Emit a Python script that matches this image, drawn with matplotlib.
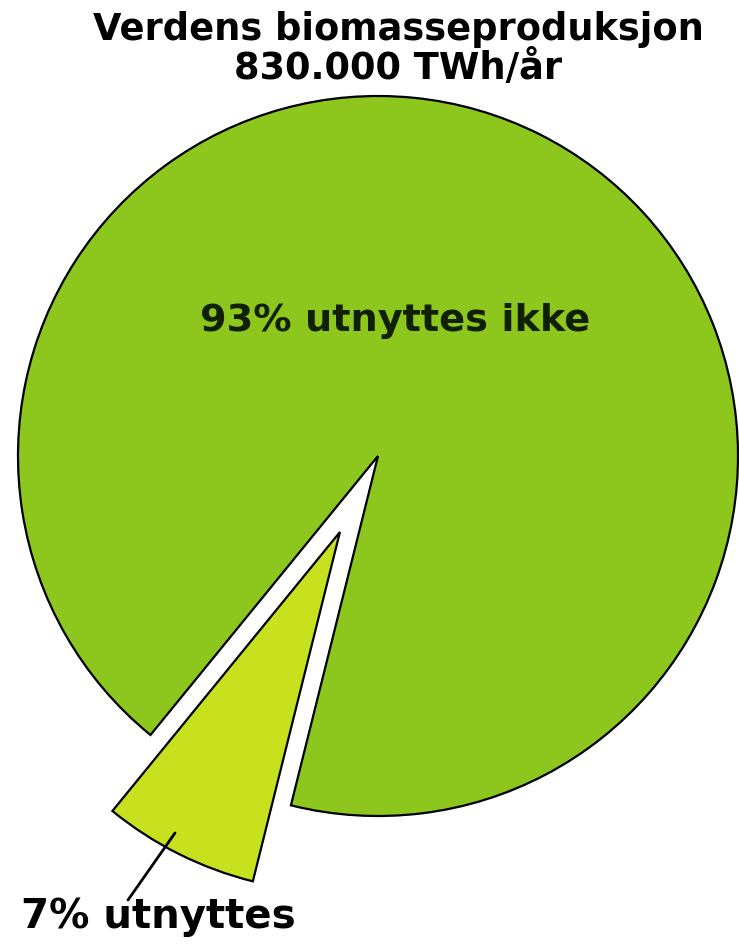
import matplotlib.pyplot as plt

# data
labels = ["93% utnyttes ikke", "7% utnyttes"]
shares = [93, 7]
colors = ["#8DC71E", "#C8E11E"]
title = "Verdens biomasseproduksjon\n830.000 TWh/år"

W, H = 739, 947
fig = plt.figure(figsize=(W / 100, H / 100), dpi=100)
ax = fig.add_axes([0, 0, 1, 1])

# pie drawn in pixel coords (y goes up), explode is in the same units
cx, cy, r = 378, 491, 360
ax.pie(shares, colors=colors, explode=[0, 85], startangle=256,
       center=(cx, cy), radius=r, frame=True,
       wedgeprops=dict(edgecolor="black", linewidth=1.6))
ax.set_xlim(0, W)
ax.set_ylim(0, H)
ax.set_aspect("equal")
ax.axis("off")

ax.text(398, H - 49, title, ha="center", va="center", fontsize=26.5,
        fontweight="bold", linespacing=1.08, color="black")

ax.text(395, H - 321, labels[0], ha="center", va="center", fontsize=27.5,
        fontweight="bold", color="#102000")

# leader line for the small slice
ax.annotate("", xy=(175, H - 833), xytext=(128, H - 900),
            arrowprops=dict(arrowstyle="-", color="black", lw=2,
                            shrinkA=0, shrinkB=0))
ax.text(21, H - 917, labels[1], ha="left", va="center", fontsize=29,
        fontweight="bold", color="black")

fig.savefig("out.png", dpi=100)
